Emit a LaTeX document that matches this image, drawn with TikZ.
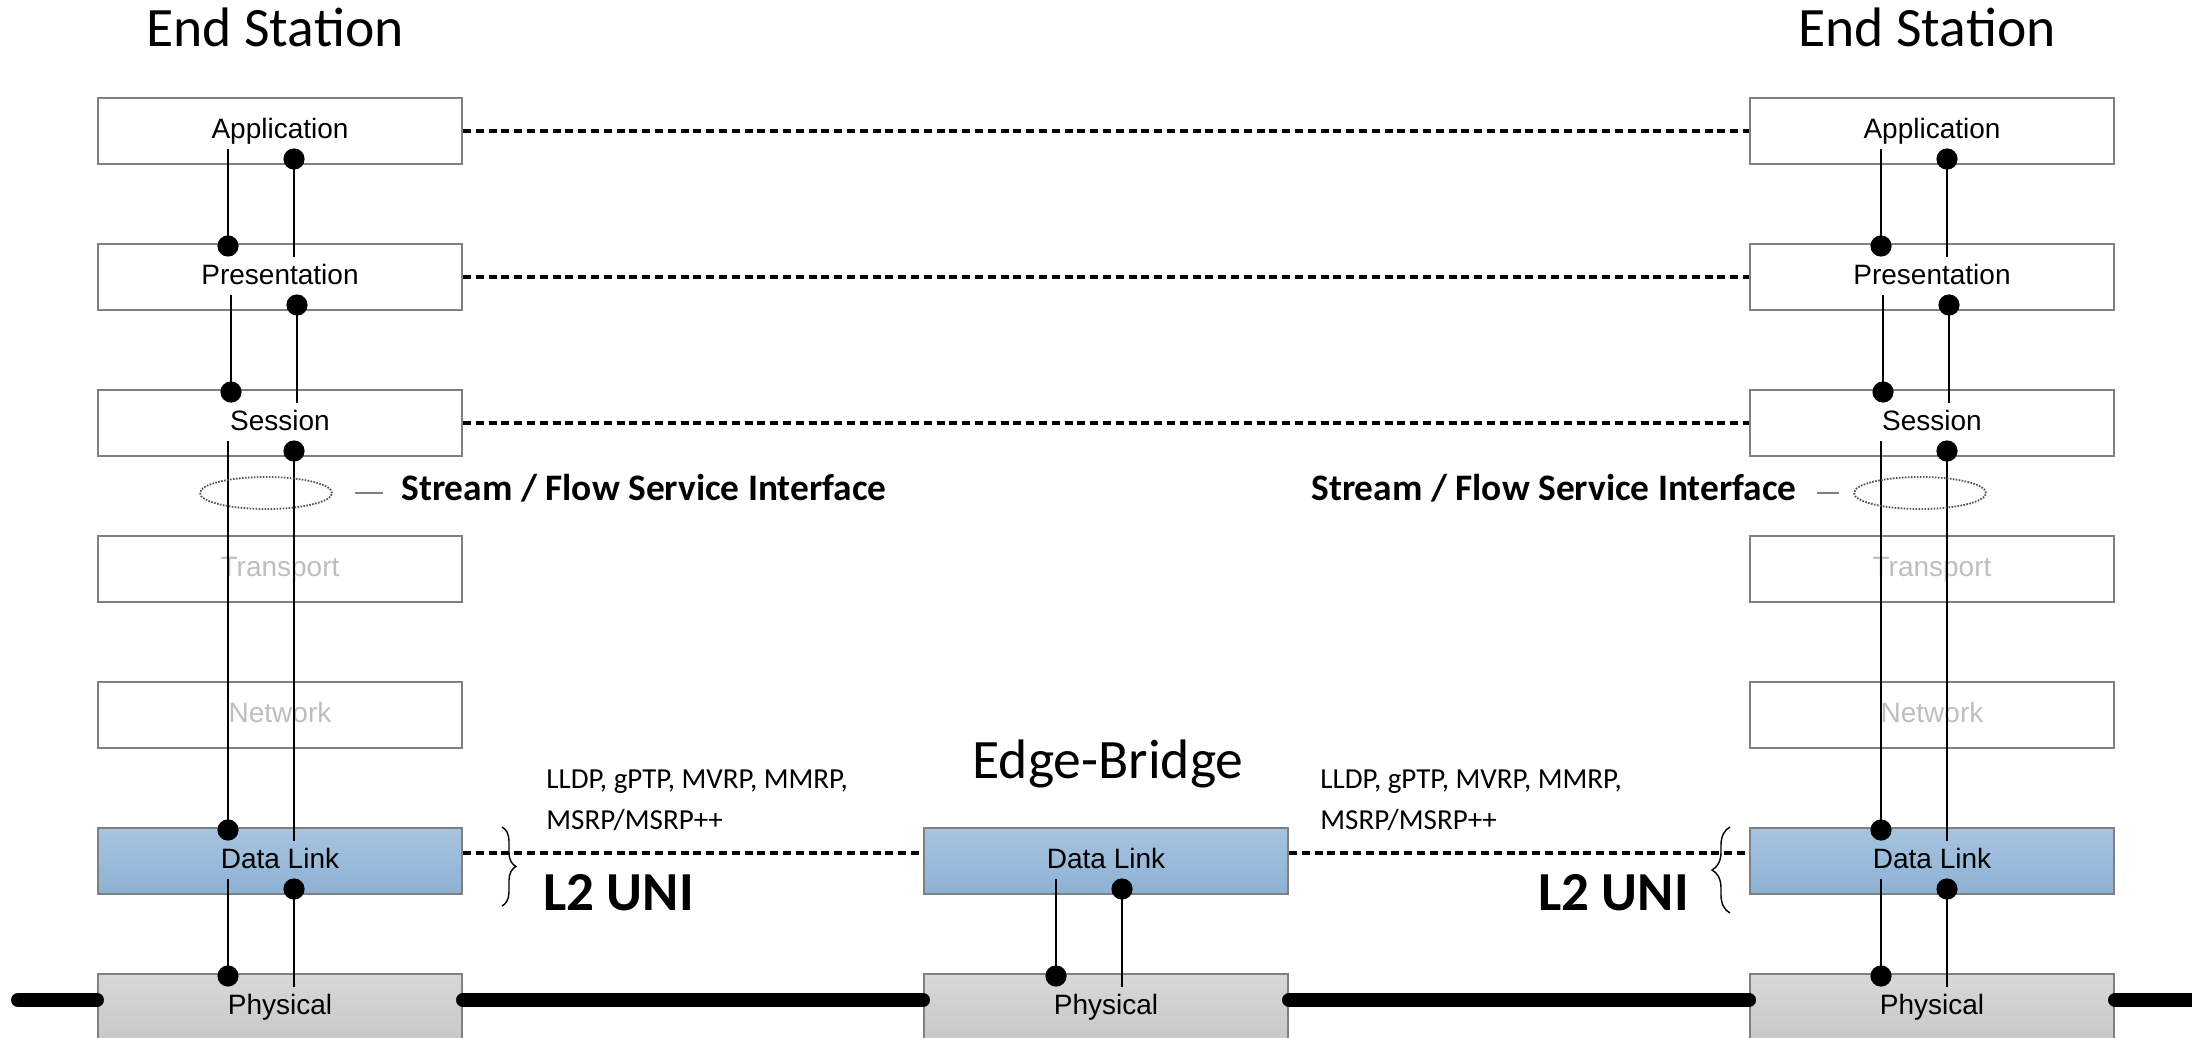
\documentclass[tikz,border=0pt]{standalone}
\usepackage{fontspec}
\setmainfont{Carlito}
\newfontfamily\arialfont{Liberation Sans}
\usetikzlibrary{calc,shapes.geometric,decorations.pathreplacing}

\definecolor{edgegray}{RGB}{128,128,128}
\definecolor{halogray}{RGB}{80,80,80}
\definecolor{fadegray}{RGB}{190,190,190}
\definecolor{dltop}{RGB}{167,196,224}
\definecolor{dlbot}{RGB}{141,177,212}
\definecolor{phtop}{RGB}{216,216,216}
\definecolor{phbot}{RGB}{200,200,200}

\tikzset{
  layer/.style={draw=edgegray, line width=1pt, minimum width=182pt,
    minimum height=33pt, inner sep=0pt, anchor=north west,
    font=\arialfont\fontsize{14}{16}\selectfont, text height=7.6pt, text depth=0pt},
  faded/.style={layer, text=fadegray},
  dllayer/.style={layer, top color=dltop, bottom color=dlbot},
  phlayer/.style={layer, top color=phtop, bottom color=phbot},
  peer/.style={line width=2pt, dash pattern=on 4pt off 2.4pt},
  link/.style={line width=1.3pt},
  wire/.style={line width=7pt, line cap=round},
  title/.style={font=\fontsize{27.8}{30}\selectfont, anchor=base, inner sep=0pt},
  sfi/.style={font=\bfseries\fontsize{18.7}{20}\selectfont, anchor=base west, inner sep=0pt},
  proto/.style={font=\fontsize{14.5}{16}\selectfont, anchor=base west, inner sep=0pt},
  uni/.style={font=\bfseries\fontsize{27.5}{30}\selectfont, anchor=base west, inner sep=0pt},
  halo/.style={ellipse, draw=halogray, line width=0.9pt, dash pattern=on 0.8pt off 0.7pt,
    minimum width=66pt, minimum height=16pt, inner sep=0pt},
  tick/.style={draw=edgegray, line width=0.8pt},
  ubrace/.style={decorate, line width=0.7pt},
}

% vertical service links between two adjacent layers of one stack
\newcommand\layerlink[3]{%
  \draw[link] ($(#1.north west)+(131+#3,52)$) -- ($(#2.north west)+(131+#3,3)$);
  \fill ($(#2.north west)+(131+#3,3)$) circle[radius=5.3pt];
  \draw[link] ($(#1.north west)+(197+#3,62)$) -- ($(#2.north west)+(197+#3,14)$);
  \fill ($(#1.north west)+(197+#3,62)$) circle[radius=5.3pt];
}

\begin{document}
\begin{tikzpicture}[x=0.5pt, y=-0.5pt]
\useasboundingbox (0,0) rectangle (2192,1038);
\clip (0,0) rectangle (2192,1038);

% titles
\node[title] (tl) at (275,47) {End Station};
\node[title] (tr) at (1927,47) {End Station};
\node[title] (tm) at (1108,778) {Edge-Bridge};

% left end station
\node[layer]   (la)  at (97,97)  {Application};
\node[layer]   (lp)  at (97,243) {Presentation};
\node[layer]   (ls)  at (97,389) {Session};
\node[faded]   (lt)  at (97,535) {Transport};
\node[faded]   (ln)  at (97,681) {Network};
\node[dllayer] (ld)  at (97,827) {Data Link};
\node[phlayer] (lph) at (97,973) {Physical};

% right end station
\node[layer]   (ra)  at (1749,97)  {Application};
\node[layer]   (rp)  at (1749,243) {Presentation};
\node[layer]   (rs)  at (1749,389) {Session};
\node[faded]   (rt)  at (1749,535) {Transport};
\node[faded]   (rn)  at (1749,681) {Network};
\node[dllayer] (rd)  at (1749,827) {Data Link};
\node[phlayer] (rph) at (1749,973) {Physical};

% edge bridge
\node[dllayer] (md)  at (923,827) {Data Link};
\node[phlayer] (mph) at (923,973) {Physical};

% peer-to-peer relations
\draw[peer] (la.east) -- (ra.west);
\draw[peer] (lp.east) -- (rp.west);
\draw[peer] (ls.east) -- (rs.west);
\draw[peer] ($(ld.north east)+(0,26)$) -- ($(md.north west)+(0,26)$);
\draw[peer] ($(md.north east)+(0,26)$) -- ($(rd.north west)+(0,26)$);

% service links inside the stacks
\layerlink{la}{lp}{0}
\layerlink{lp}{ls}{3}
\layerlink{ls}{ld}{0}
\layerlink{ld}{lph}{0}
\layerlink{ra}{rp}{1}
\layerlink{rp}{rs}{3}
\layerlink{rs}{rd}{1}
\layerlink{rd}{rph}{1}
\layerlink{md}{mph}{2}

% physical medium
\coordinate (wl) at (18,1000);
\coordinate (wr) at (2220,1000);
\draw[wire] (wl) -- ($(lph.north west)+(0,27)$);
\draw[wire] ($(lph.north east)+(0,27)$) -- ($(mph.north west)+(0,27)$);
\draw[wire] ($(mph.north east)+(0,27)$) -- ($(rph.north west)+(0,27)$);
\draw[wire] ($(rph.north east)+(0,27)$) -- (wr);

% stream / flow service interface
\node[halo] (hl) at (266,493) {};
\node[sfi] (sl) at (401,500) {Stream / Flow Service Interface};
\draw[tick, shorten <=11pt, shorten >=9pt] (hl.east) -- (hl.east -| sl.west);
\node[halo] (hr) at (1920,493) {};
\node[sfi] (sr) at (1311,500) {Stream / Flow Service Interface};
\draw[tick, shorten <=10pt, shorten >=7pt] (hr.west -| sr.east) -- (hr.west);

% layer-2 protocols and UNI
\node[proto] (pl1) at (546,788) {LLDP, gPTP, MVRP, MMRP,};
\node[proto] (pl2) at (546,829) {MSRP/MSRP++};
\node[proto] (pr1) at (1320,788) {LLDP, gPTP, MVRP, MMRP,};
\node[proto] (pr2) at (1320,829) {MSRP/MSRP++};
\node[uni] (ul) at (543,910) {L2 UNI};
\node[uni] (ur) at (1538,910) {L2 UNI};
\coordinate (bl1) at (502,827);
\coordinate (bl2) at (502,906);
\coordinate (br1) at (1730,913);
\coordinate (br2) at (1730,827);
\draw[ubrace, decoration={brace, amplitude=7pt}] (bl1) -- (bl2);
\draw[ubrace, decoration={brace, amplitude=9pt}] (br1) -- (br2);
\end{tikzpicture}
\end{document}
